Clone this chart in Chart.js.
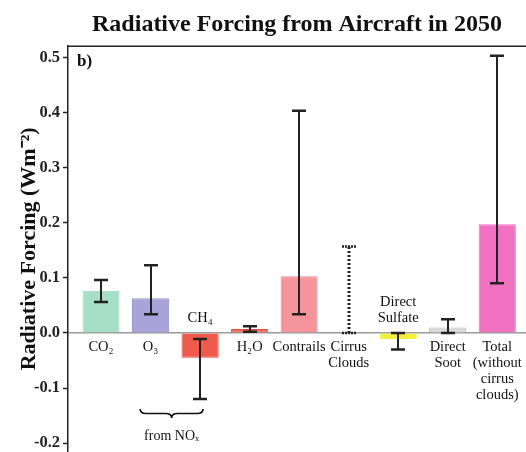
<!DOCTYPE html>
<html>
<head>
<meta charset="utf-8">
<script src="https://cdn.jsdelivr.net/npm/chart.js@4/dist/chart.umd.min.js"></script>
<style>
  html, body { margin: 0; padding: 0; background: #fff; }
  #wrap { width: 526px; height: 452px; position: relative; }
</style>
</head>
<body>
<div id="wrap"><canvas id="c"></canvas></div>
<script>
const categories = ['CO₂', 'O₃', 'CH₄', 'H₂O', 'Contrails', ['Cirrus', 'Clouds'], ['Direct', 'Sulfate'], ['Direct', 'Soot'], ['Total', '(without', 'cirrus', 'clouds)']];
const forcing = [0.076, 0.063, -0.045, 0.007, 0.103, 0.0, -0.011, 0.010, 0.197];
const errLow = [0.056, 0.034, -0.120, 0.002, 0.034, 0.000, -0.030, 0.000, 0.090];
const errHigh = [0.096, 0.123, -0.011, 0.012, 0.403, 0.157, 0.000, 0.025, 0.503];
const barColors = ['#a6dfc6', '#aaa3d9', '#ef5a4b', '#f27363', '#f6949b', 'rgba(0,0,0,0)', '#f2f03a', '#d9d9d9', '#f070c2'];
const barBorders = ['#a6dfc6', '#9c95cf', '#e04a3b', '#d8503f', '#ee8890', 'rgba(0,0,0,0)', '#f2f03a', '#b8b8b8', '#f070c2'];
const dottedError = [false, false, false, false, false, true, false, false, false];
const aboveLabels = [2, 6];
const yTicks = [-0.2, -0.1, 0.0, 0.1, 0.2, 0.3, 0.4, 0.5];

const SERIF = "'Liberation Serif', 'Times New Roman', serif";

const extras = {
  id: 'extras',
  afterDatasetsDraw(chart) {
    const ctx = chart.ctx;
    const xs = chart.scales.x, ys = chart.scales.y;
    const area = chart.chartArea;
    ctx.save();
    // top border
    ctx.strokeStyle = '#222';
    ctx.lineWidth = 1.5;
    ctx.beginPath();
    ctx.moveTo(area.left, area.top + 0.5);
    ctx.lineTo(area.right, area.top + 0.5);
    ctx.stroke();
    // error bars
    for (let i = 0; i < forcing.length; i++) {
      const x = Math.round(xs.getPixelForValue(i));
      const yl = ys.getPixelForValue(errLow[i]);
      const yh = ys.getPixelForValue(errHigh[i]);
      ctx.strokeStyle = '#222';
      if (dottedError[i]) {
        ctx.lineWidth = 3;
        ctx.setLineDash([2, 2]);
      } else {
        ctx.lineWidth = 2;
        ctx.setLineDash([]);
      }
      ctx.beginPath();
      ctx.moveTo(x, yl);
      ctx.lineTo(x, yh);
      ctx.stroke();
      ctx.setLineDash(dottedError[i] ? [2, 1] : []);
      ctx.lineWidth = 2.5;
      ctx.beginPath();
      ctx.moveTo(x - 7, yl);
      ctx.lineTo(x + 7, yl);
      ctx.moveTo(x - 7, yh);
      ctx.lineTo(x + 7, yh);
      ctx.stroke();
    }
    ctx.setLineDash([]);
    // labels above zero line for negative bars
    ctx.fillStyle = '#111';
    ctx.font = '14.5px ' + SERIF;
    ctx.textAlign = 'center';
    ctx.textBaseline = 'middle';
    const y0 = ys.getPixelForValue(0);
    aboveLabels.forEach(i => {
      const lab = Array.isArray(categories[i]) ? categories[i] : [categories[i]];
      const x = xs.getPixelForValue(i);
      lab.forEach((t, k) => {
        ctx.fillText(t, x, y0 - 15 - (lab.length - 1 - k) * 16);
      });
    });
    // panel letter
    ctx.font = 'bold 17px ' + SERIF;
    ctx.textAlign = 'left';
    ctx.fillText('b)', area.left + 9, area.top + 16);
    // brace under O3 and CH4
    const bx1 = xs.getPixelForValue(0.79), bx2 = xs.getPixelForValue(2.06);
    const bm = (bx1 + bx2) / 2;
    const by = ys.getPixelForValue(-0.138);
    const h = 9;
    ctx.strokeStyle = '#111';
    ctx.lineWidth = 1.7;
    ctx.beginPath();
    ctx.moveTo(bx1, by);
    ctx.quadraticCurveTo(bx1, by + h / 2, bx1 + 6, by + h / 2);
    ctx.lineTo(bm - 6, by + h / 2);
    ctx.quadraticCurveTo(bm, by + h / 2, bm, by + h);
    ctx.quadraticCurveTo(bm, by + h / 2, bm + 6, by + h / 2);
    ctx.lineTo(bx2 - 6, by + h / 2);
    ctx.quadraticCurveTo(bx2, by + h / 2, bx2, by);
    ctx.stroke();
    ctx.font = '14px ' + SERIF;
    ctx.textAlign = 'center';
    ctx.fillText('from NOₓ', bm, by + 27);
    ctx.restore();
  }
};

new Chart(document.getElementById('c'), {
  type: 'bar',
  data: {
    datasets: [{
      data: forcing.map((v, i) => ({ x: i, y: v })),
      backgroundColor: barColors,
      borderColor: barBorders,
      borderWidth: 1,
      barPercentage: 0.75,
      categoryPercentage: 1.0
    }]
  },
  options: {
    responsive: true,
    maintainAspectRatio: false,
    animation: false,
    layout: { padding: { left: 0, right: 0, top: 0, bottom: 0 } },
    plugins: {
      legend: { display: false },
      tooltip: { enabled: false },
      title: {
        display: true,
        text: 'Radiative Forcing from Aircraft in 2050',
        fullSize: false,
        color: '#111',
        font: { family: SERIF, size: 24, weight: 'bold' },
        padding: { top: 10, bottom: 7 }
      }
    },
    scales: {
      x: {
        type: 'linear',
        min: -0.667,
        max: 8.58,
        offset: false,
        position: { y: 0 },
        afterFit: s => { s.height = 0; s.paddingLeft = 0; s.paddingRight = 0; },
        grid: { display: false, drawTicks: false },
        border: { display: true, color: '#9a9a9a', width: 1.5 },
        afterBuildTicks: s => { s.ticks = categories.map((_, i) => ({ value: i })); },
        ticks: {
          autoSkip: false,
          maxRotation: 0,
          padding: 6,
          color: '#111',
          font: { family: SERIF, size: 14.5, lineHeight: 1.1 },
          callback: v => (aboveLabels.includes(v) ? '' : categories[v])
        }
      },
      y: {
        min: -0.216,
        max: 0.521,
        afterFit: s => { s.width = 68; s.paddingTop = 0; s.paddingBottom = 0; },
        afterBuildTicks: s => { s.ticks = yTicks.map(v => ({ value: v })); },
        grid: { display: true, drawOnChartArea: false, color: 'rgba(0,0,0,0)', tickColor: '#222', tickLength: 5, tickWidth: 1.5 },
        border: { display: true, color: '#222', width: 1.5 },
        ticks: {
          padding: 3,
          color: '#222',
          font: { family: SERIF, size: 16.5, weight: 'bold' },
          callback: v => v.toFixed(1)
        },
        title: {
          display: true,
          text: 'Radiative Forcing (Wm⁻²)',
          color: '#111',
          font: { family: SERIF, size: 22, weight: 'bold' },
          padding: { top: 16, bottom: 0 }
        }
      }
    }
  },
  plugins: [extras]
});
</script>
</body>
</html>
